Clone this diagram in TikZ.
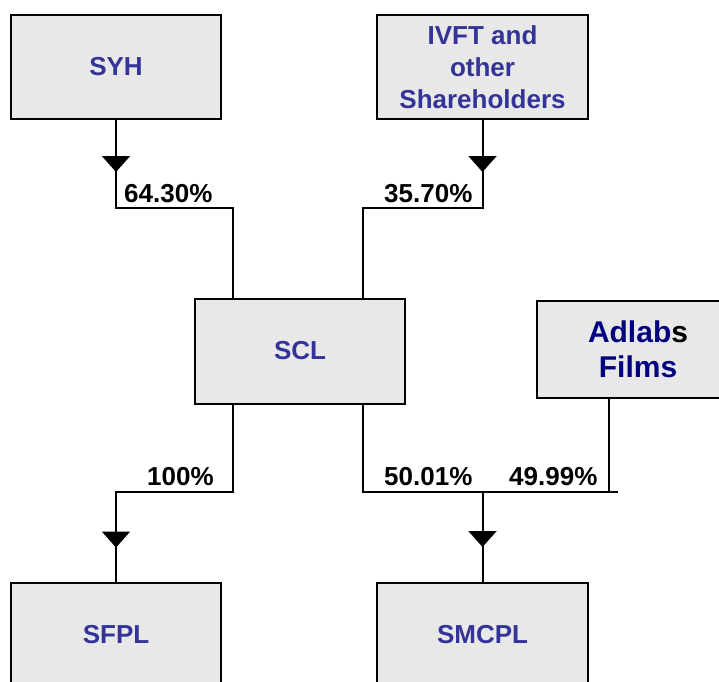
\documentclass[tikz,border=0pt]{standalone}
\usepackage{fontspec}
\setmainfont{Liberation Sans}
\usetikzlibrary{arrows.meta,decorations.markings}
\definecolor{boxfill}{HTML}{E8E8E8}
\definecolor{boxtext}{HTML}{333399}
\definecolor{navytext}{HTML}{000080}
\begin{document}
\begin{tikzpicture}[x=1pt,y=-1pt,
  entity/.style={draw=black, line width=2pt, fill=boxfill, minimum width=210pt, minimum height=104pt,
    inner sep=0pt, align=center, text=boxtext, font=\fontsize{26}{32}\selectfont\bfseries},
  pct/.style={font=\fontsize{26}{30}\selectfont\bfseries, inner sep=0pt, anchor=base west},
  conn/.style={line width=2pt},
  tri/.tip={Triangle[width=28pt,length=16pt]},
  midarrow/.style={postaction={decorate}, decoration={markings, mark=at position #1 with {\arrow{tri}}}}
]
\clip (0,0) rectangle (719,681);
\fill[white] (0,0) rectangle (719,681);

% boxes
\node[entity] (syh) at (116,67) {SYH};
\node[entity, minimum width=211pt] (ivft) at (482.5,67) {IVFT and\\other\\Shareholders};
\node[entity, minimum height=105pt] (scl) at (300,351) {SCL};
\node[entity, minimum width=202pt, minimum height=97pt, text=navytext, font=\fontsize{30}{35}\selectfont\bfseries] (adlabs) at (638,349) {Adlab{\color{black}s}\\Films};
\node[entity] (sfpl) at (116,635) {SFPL};
\node[entity, minimum width=211pt] (smcpl) at (482.5,635) {SMCPL};

% junction points
\coordinate (jr) at (618,492);
\coordinate (jm) at (smcpl.north |- jr);

% connectors
\draw[conn, midarrow=52pt] (syh.south) -- (syh.south |- 0,208) -| ([xshift=-67pt]scl.north);
\draw[conn, midarrow=52pt] (ivft.south) -- (ivft.south |- 0,208) -| ([xshift=63pt]scl.north);
\draw[conn, midarrow=260pt] ([xshift=-67pt]scl.south) |- (jr -| sfpl.north) -- (sfpl.north);
\draw[conn] ([xshift=63pt]scl.south) |- (jr);
\draw[conn] ([xshift=-29pt]adlabs.south) -- ([xshift=-29pt]adlabs.south |- jr);
\draw[conn, midarrow=55pt] (jm) -- (smcpl.north);

% labels
\node[pct] (l1) at (124,202) {64.30\%};
\node[pct] (l2) at (384,202) {35.70\%};
\node[pct] (l3) at (147,485) {100\%};
\node[pct] (l4) at (384,485) {50.01\%};
\node[pct] (l5) at (509,485) {49.99\%};
\end{tikzpicture}
\end{document}
